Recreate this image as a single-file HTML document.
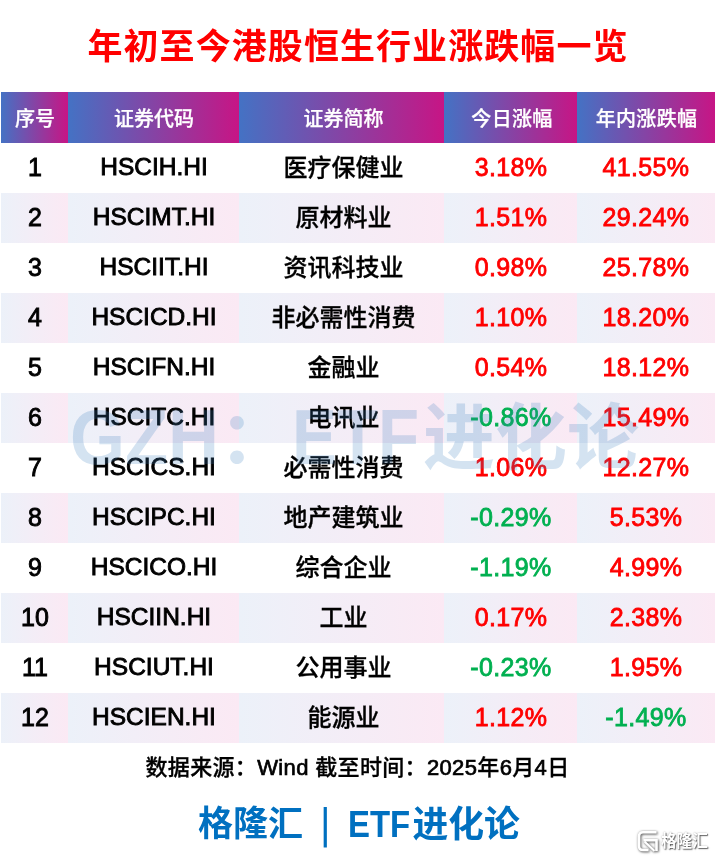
<!DOCTYPE html>
<html lang="zh-CN">
<head>
<meta charset="utf-8">
<title>年初至今港股恒生行业涨跌幅一览</title>
<style>
html,body{margin:0;padding:0;background:#fff;}
body{width:715px;height:859px;position:relative;overflow:hidden;font-family:"Liberation Sans","Noto Sans CJK SC",sans-serif;color:#000;}
.title{position:absolute;left:0;top:21px;width:716px;text-align:center;font-size:35px;line-height:52px;font-weight:700;color:#ff0000;white-space:nowrap;letter-spacing:1.07px;}
.table{position:absolute;left:1px;top:92px;width:714px;}
.row{display:flex;height:50px;}
.row.head{height:51px;}
.c{height:100%;display:flex;align-items:center;justify-content:center;font-size:24px;font-weight:500;white-space:nowrap;box-sizing:border-box;padding-bottom:2px;}
.c1,.c2,.c4,.c5{font-size:25px;font-weight:400;-webkit-text-stroke:0.9px currentColor;}
.c4,.c5{-webkit-text-stroke-width:0.8px;letter-spacing:0.35px;}
.c3{padding-left:4px;padding-bottom:6px;-webkit-text-stroke:0.3px currentColor;}
.c2{font-size:24.5px;padding-left:1px;}
.c1{padding-left:1px;}
.c4{padding-left:1px;}
.head .c{-webkit-text-stroke:0.25px #fff;padding:0 0 0 1px;}
.head .c3{padding-left:4px;}
.head .c4{padding-left:3px;}
.c1{width:67px;}.c2{width:171px;}.c3{width:205px;}.c4{width:133px;}.c5{width:138px;}
.head .c{background:linear-gradient(90deg,#4472c4 0%,#c71585 100%);color:#fff;font-size:20px;font-weight:500;}
.alt .c{background:linear-gradient(90deg,#ecf1f9 0%,#fbe9f4 100%);}
.up{color:#ff0000;}
.dn{color:#00b050;}
.wm{position:absolute;left:0;top:0;width:715px;height:859px;font-weight:700;color:rgba(60,128,190,0.22);white-space:nowrap;pointer-events:none;}
.wm span{position:absolute;line-height:90px;top:393px;transform-origin:0 50%;}
.wm .w1{left:69.5px;font-size:77px;transform:scaleX(0.917);top:392px;}
.wm .w2{left:219px;font-size:72px;}
.wm .w3{left:291.5px;font-size:77px;transform:scaleX(0.874);top:392px;}
.wm .w4{left:423px;font-size:72px;}
.src{position:absolute;left:0;top:753px;width:715px;text-align:center;font-size:22px;line-height:30px;font-weight:500;white-space:nowrap;letter-spacing:0.35px;-webkit-text-stroke:0.3px #000;}
.src b{font-weight:400;-webkit-text-stroke:0.7px #000;}
.brand{position:absolute;left:0;top:0;width:715px;height:859px;font-size:35px;font-weight:700;color:#0070c0;white-space:nowrap;}
.brand span{position:absolute;top:799px;line-height:50px;}
.brand .b1{left:198px;}
.brand .b2{left:320px;font-size:38px;top:799px;transform:scale(0.66,1.095);transform-origin:50% 50%;}
.brand .b3{left:347.7px;font-size:37px;top:800px;transform:scaleX(0.89);transform-origin:0 50%;}
.brand .b4{left:412.5px;font-size:35.8px;top:799.5px;}
.logo{position:absolute;left:637px;top:830px;width:78px;height:24px;color:#fff;font-weight:700;white-space:nowrap;}
.logo svg{position:absolute;left:0;top:0;overflow:visible;filter:drop-shadow(1px 1px 0.8px rgba(0,0,0,.5)) drop-shadow(0 0 0.8px rgba(0,0,0,.3));}
.logo span{position:absolute;left:24px;top:-3px;font-size:15.6px;line-height:28px;letter-spacing:0;transform:scaleY(1.12);transform-origin:0 50%;text-shadow:1px 1px 1.2px rgba(0,0,0,.6),0 0 1.6px rgba(0,0,0,.35);}
</style>
</head>
<body>
<div class="title">年初至今港股恒生行业涨跌幅一览</div>
<div class="table">
<div class="row head"><div class="c c1">序号</div><div class="c c2">证券代码</div><div class="c c3">证券简称</div><div class="c c4">今日涨幅</div><div class="c c5">年内涨跌幅</div></div>
<div class="row"><div class="c c1">1</div><div class="c c2">HSCIH.HI</div><div class="c c3">医疗保健业</div><div class="c c4 up">3.18%</div><div class="c c5 up">41.55%</div></div>
<div class="row alt"><div class="c c1">2</div><div class="c c2">HSCIMT.HI</div><div class="c c3">原材料业</div><div class="c c4 up">1.51%</div><div class="c c5 up">29.24%</div></div>
<div class="row"><div class="c c1">3</div><div class="c c2">HSCIIT.HI</div><div class="c c3">资讯科技业</div><div class="c c4 up">0.98%</div><div class="c c5 up">25.78%</div></div>
<div class="row alt"><div class="c c1">4</div><div class="c c2">HSCICD.HI</div><div class="c c3">非必需性消费</div><div class="c c4 up">1.10%</div><div class="c c5 up">18.20%</div></div>
<div class="row"><div class="c c1">5</div><div class="c c2">HSCIFN.HI</div><div class="c c3">金融业</div><div class="c c4 up">0.54%</div><div class="c c5 up">18.12%</div></div>
<div class="row alt"><div class="c c1">6</div><div class="c c2">HSCITC.HI</div><div class="c c3">电讯业</div><div class="c c4 dn">-0.86%</div><div class="c c5 up">15.49%</div></div>
<div class="row"><div class="c c1">7</div><div class="c c2">HSCICS.HI</div><div class="c c3">必需性消费</div><div class="c c4 up">1.06%</div><div class="c c5 up">12.27%</div></div>
<div class="row alt"><div class="c c1">8</div><div class="c c2">HSCIPC.HI</div><div class="c c3">地产建筑业</div><div class="c c4 dn">-0.29%</div><div class="c c5 up">5.53%</div></div>
<div class="row"><div class="c c1">9</div><div class="c c2">HSCICO.HI</div><div class="c c3">综合企业</div><div class="c c4 dn">-1.19%</div><div class="c c5 up">4.99%</div></div>
<div class="row alt"><div class="c c1">10</div><div class="c c2">HSCIIN.HI</div><div class="c c3">工业</div><div class="c c4 up">0.17%</div><div class="c c5 up">2.38%</div></div>
<div class="row"><div class="c c1">11</div><div class="c c2">HSCIUT.HI</div><div class="c c3">公用事业</div><div class="c c4 dn">-0.23%</div><div class="c c5 up">1.95%</div></div>
<div class="row alt"><div class="c c1">12</div><div class="c c2">HSCIEN.HI</div><div class="c c3">能源业</div><div class="c c4 up">1.12%</div><div class="c c5 dn">-1.49%</div></div>
</div>
<div class="wm"><span class="w1">GZH</span><span class="w2">：</span><span class="w3">ETF</span><span class="w4">进化论</span></div>
<div class="src">数据来源：<b>Wind</b> 截至时间：<b>2025</b>年<b>6</b>月<b>4</b>日</div>
<div class="brand"><span class="b1">格隆汇</span><span class="b2">|</span><span class="b3">ETF</span><span class="b4">进化论</span></div>
<div class="logo"><svg width="21" height="22" viewBox="0 0 21 22"><path d="M19.5 2.3H6Q2 2.3 2 6.3V16Q2 20 6 20H11.5" fill="none" stroke="#fff" stroke-width="2.6"/><path d="M6.5 10.2H19.5V21" fill="none" stroke="#fff" stroke-width="2.6"/><path d="M7.5 11.5L17.5 21" fill="none" stroke="#fff" stroke-width="2.2"/></svg><span>格隆汇</span></div>
</body>
</html>
